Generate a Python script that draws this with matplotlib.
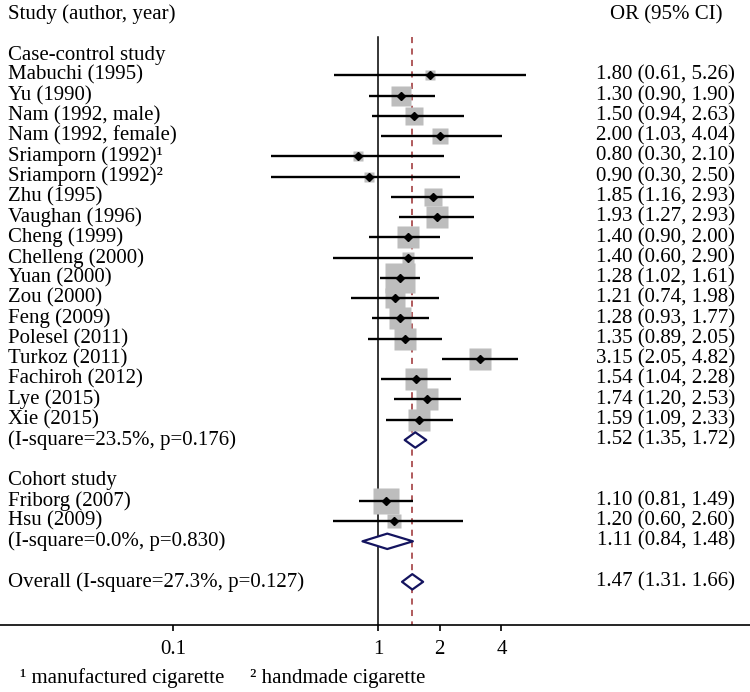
import numpy as np
import matplotlib
matplotlib.use("Agg")
import matplotlib.pyplot as plt
from matplotlib.patches import Polygon

plt.rcParams["font.family"] = ["Liberation Serif", "DejaVu Serif"]

# ---- data: case-control studies ----
cc_names = ["Mabuchi (1995)", "Yu (1990)", "Nam (1992, male)", "Nam (1992, female)",
            "Sriamporn (1992)\u00b9", "Sriamporn (1992)\u00b2",
            "Zhu (1995)", "Vaughan (1996)", "Cheng (1999)", "Chelleng (2000)",
            "Yuan (2000)", "Zou (2000)", "Feng (2009)", "Polesel (2011)", "Turkoz (2011)",
            "Fachiroh (2012)", "Lye (2015)", "Xie (2015)"]
cc_or = [1.80, 1.30, 1.50, 2.00, 0.80, 0.90, 1.85, 1.93, 1.40, 1.40,
         1.28, 1.21, 1.28, 1.35, 3.15, 1.54, 1.74, 1.59]
cc_lo = [0.61, 0.90, 0.94, 1.03, 0.30, 0.30, 1.16, 1.27, 0.90, 0.60,
         1.02, 0.74, 0.93, 0.89, 2.05, 1.04, 1.20, 1.09]
cc_hi = [5.26, 1.90, 2.63, 4.04, 2.10, 2.50, 2.93, 2.93, 2.00, 2.90,
         1.61, 1.98, 1.77, 2.05, 4.82, 2.28, 2.53, 2.33]
cc_weight = [1.4, 5.4, 4.4, 3.5, 1.4, 1.4, 4.4, 6.0, 6.0, 1.9,
             11.4, 5.4, 6.5, 6.0, 6.0, 6.0, 6.0, 6.0]   # % weight
cc_pool = (1.52, 1.35, 1.72)
cc_het = "(I-square=23.5%, p=0.176)"

# ---- data: cohort studies ----
co_names = ["Friborg (2007)", "Hsu (2009)"]
co_or = [1.10, 1.20]
co_lo = [0.81, 0.60]
co_hi = [1.49, 2.60]
co_weight = [9.1, 2.3]
co_pool = (1.11, 0.84, 1.48)
co_het = "(I-square=0.0%, p=0.830)"

overall = (1.47, 1.31, 1.66)
overall_label = "Overall (I-square=27.3%, p=0.127)"
overall_text = "1.47 (1.31. 1.66)"

xticks = [0.1, 1, 2, 4]
xtick_labels = ["0.1", "1", "2", "4"]
footnotes = ["\u00b9 manufactured cigarette", "\u00b2 handmade cigarette"]

FS = 15
NAVY = "#14145f"
fig = plt.figure(figsize=(7.5, 6.92), dpi=100)
ax = fig.add_axes([0, 67 / 692, 1, 625 / 692])
ax.set_xscale("log")
ax.set_xlim(0.01432, 65.3)
ax.set_ylim(28.13, -2.715)
tr = ax.get_yaxis_transform()


def fx(px):
    # pixel column -> axes fraction
    return px / 750


def ci_fmt(o, l, h):
    return f"{o:.2f} ({l:.2f}, {h:.2f})"


def draw_study(y, name, o, l, h, w):
    ax.text(fx(8), y, name, transform=tr, ha="left", va="center", fontsize=FS)
    ax.text(fx(735), y, ci_fmt(o, l, h), transform=tr, ha="right", va="center", fontsize=FS)
    size_px = 8.6 * np.sqrt(w)
    ax.plot(o, y, marker="s", ms=size_px * 0.72, color="#bdbdbd", mec="none", zorder=2)
    ax.plot([l, h], [y, y], color="black", lw=1.7, zorder=3, solid_capstyle="butt")
    ax.plot(o, y, marker="D", ms=4.3, color="black", zorder=4)


def draw_pool(y, label, est, lo, hi, txt=None):
    ax.text(fx(8), y, label, transform=tr, ha="left", va="center", fontsize=FS)
    ax.text(fx(735), y, txt if txt else ci_fmt(est, lo, hi), transform=tr,
            ha="right", va="center", fontsize=FS)
    hh = 0.38
    ax.add_patch(Polygon([(lo, y), (est, y - hh), (hi, y), (est, y + hh)], closed=True,
                         facecolor="white", edgecolor=NAVY, lw=1.6, joinstyle="round", zorder=5))


# reference lines: null effect and overall estimate
ax.plot([1, 1], [-0.9, 28.13], color="black", lw=1.1, zorder=1)
ax.plot([overall[0]] * 2, [-0.9, 28.13], color="#9b2d30", lw=1.1, ls=(0, (4, 3.5)), zorder=1)

# headers
ax.text(fx(8), -2, "Study (author, year)", transform=tr, ha="left", va="center", fontsize=FS)
ax.text(fx(722), -2, "OR (95% CI)", transform=tr, ha="right", va="center", fontsize=FS)

ax.text(fx(8), 0, "Case-control study", transform=tr, ha="left", va="center", fontsize=FS)
for i in range(len(cc_names)):
    draw_study(1 + i, cc_names[i], cc_or[i], cc_lo[i], cc_hi[i], cc_weight[i])
draw_pool(19, cc_het, *cc_pool)

ax.text(fx(8), 21, "Cohort study", transform=tr, ha="left", va="center", fontsize=FS)
for i in range(len(co_names)):
    draw_study(22 + i, co_names[i], co_or[i], co_lo[i], co_hi[i], co_weight[i])
draw_pool(24, co_het, *co_pool)

draw_pool(26, overall_label, *overall, txt=overall_text)

# axis styling
for s in ["top", "left", "right"]:
    ax.spines[s].set_visible(False)
ax.spines["bottom"].set_linewidth(1.2)
ax.set_yticks([])
ax.set_xticks(xticks)
ax.set_xticklabels(xtick_labels, fontsize=FS)
ax.minorticks_off()
ax.tick_params(axis="x", direction="out", length=4.5, width=1.2, pad=6)

# footnotes
fig.text(20 / 750, 1 - 678 / 692, footnotes[0], ha="left", va="center", fontsize=FS)
fig.text(250 / 750, 1 - 678 / 692, footnotes[1], ha="left", va="center", fontsize=FS)

fig.savefig("out.png", dpi=100)
